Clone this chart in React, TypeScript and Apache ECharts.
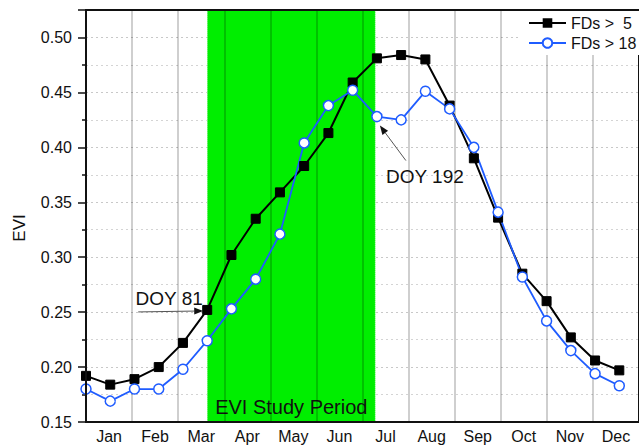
import React, { useEffect, useRef } from "react";
import * as echarts from "echarts";

const months = ["Jan", "Feb", "Mar", "Apr", "May", "Jun", "Jul", "Aug", "Sep", "Oct", "Nov", "Dec"];
const doy = [1, 17, 33, 49, 65, 81, 97, 113, 129, 145, 161, 177, 193, 209, 225, 241, 257, 273, 289, 305, 321, 337, 353];
const fds5 = [0.192, 0.184, 0.189, 0.2, 0.222, 0.252, 0.302, 0.335, 0.359, 0.383, 0.413, 0.459, 0.481, 0.484, 0.48, 0.438, 0.39, 0.336, 0.285, 0.26, 0.227, 0.206, 0.197];
const fds18 = [0.18, 0.169, 0.18, 0.18, 0.198, 0.224, 0.253, 0.28, 0.321, 0.404, 0.438, 0.452, 0.428, 0.425, 0.451, 0.435, 0.4, 0.341, 0.282, 0.242, 0.215, 0.194, 0.183];
const studyPeriod = [81, 192];
const seriesNames = ["FDs >  5", "FDs > 18"];
const yMin = 0.15;
const yMax = 0.525;
const yStep = 0.05;

const FONT = "'Liberation Sans', Arial, Helvetica, sans-serif";

function arrow(x1: number, y1: number, x2: number, y2: number, color: string) {
  const dx = x2 - x1;
  const dy = y2 - y1;
  const len = Math.sqrt(dx * dx + dy * dy);
  const ux = dx / len;
  const uy = dy / len;
  const hl = 9;
  const hw = 3.5;
  const bx = x2 - ux * hl;
  const by = y2 - uy * hl;
  return [
    {
      type: "line",
      z: 10,
      shape: { x1, y1, x2: bx, y2: by },
      style: { stroke: color, lineWidth: 1 },
    },
    {
      type: "polygon",
      z: 10,
      shape: {
        points: [
          [x2, y2],
          [bx - uy * hw, by + ux * hw],
          [bx + uy * hw, by - ux * hw],
        ],
      },
      style: { fill: "#111" },
    },
  ];
}

export default function App() {
  const ref = useRef<HTMLDivElement>(null);
  useEffect(() => {
    if (!ref.current) return;
    const chart = echarts.init(ref.current, null, { renderer: "svg" });
    const d5 = doy.map((d, i) => [d, fds5[i]]);
    const d18 = doy.map((d, i) => [d, fds18[i]]);
    chart.setOption({
      animation: false,
      textStyle: { fontFamily: FONT },
      grid: {
        left: 86,
        top: 10,
        width: 557,
        height: 412,
        show: true,
        borderColor: "#111",
        borderWidth: 2,
        z: 4,
      },
      legend: {
        orient: "vertical",
        left: 520,
        top: 11,
        padding: [3, 8, 3, 8],
        backgroundColor: "#fff",
        itemWidth: 37,
        itemHeight: 12,
        itemGap: 2,
        z: 6,
        textStyle: { fontSize: 16, color: "#111", fontFamily: FONT, lineHeight: 18 },
        data: seriesNames,
      },
      xAxis: [
        {
          type: "category",
          data: months,
          boundaryGap: true,
          z: 2,
          axisLine: { show: true, lineStyle: { color: "#111", width: 2 } },
          axisTick: { show: false },
          axisLabel: { fontSize: 16, color: "#111", margin: 6, fontFamily: FONT },
          splitLine: { show: true, lineStyle: { color: "rgba(0,0,0,0.25)", width: 1.5 } },
        },
        {
          type: "value",
          min: 1,
          max: 366,
          show: false,
          splitLine: { show: false },
        },
      ],
      yAxis: {
        type: "value",
        min: yMin,
        max: yMax,
        interval: yStep,
        z: 0,
        axisLine: { show: true, lineStyle: { color: "#111", width: 2 } },
        axisTick: { show: true, length: 8, inside: false, lineStyle: { color: "#111", width: 1.5 } },
        minorTick: { show: true, splitNumber: 2, length: 4, lineStyle: { color: "#111", width: 1.5 } },
        axisLabel: {
          fontSize: 16,
          color: "#111",
          margin: 14,
          fontFamily: FONT,
          formatter: (v: number) =>
            Math.abs(v / yStep - Math.round(v / yStep)) < 1e-6 && v < yMax - 1e-6 ? v.toFixed(2) : "",
        },
        splitLine: { show: true, lineStyle: { color: "#c8c8c8", type: [2, 3], width: 1 } },
        minorSplitLine: { show: true, lineStyle: { color: "#d4d4d4", type: [2, 3], width: 1 } },
      },
      series: [
        {
          type: "line",
          name: "study",
          xAxisIndex: 1,
          yAxisIndex: 0,
          data: [],
          silent: true,
          markArea: {
            silent: true,
            z: 1,
            itemStyle: {
              color: "#00ee00",
              borderColor: "rgba(255,255,255,0.7)",
              borderWidth: 1,
              borderType: "dotted",
            },
            label: {
              show: true,
              position: "insideBottom",
              distance: 6,
              fontSize: 20,
              color: "#111",
              fontFamily: FONT,
            },
            data: [[{ xAxis: studyPeriod[0], name: "EVI Study Period" }, { xAxis: studyPeriod[1] }]],
          },
        },
        {
          type: "line",
          name: seriesNames[0],
          xAxisIndex: 1,
          yAxisIndex: 0,
          data: d5,
          z: 3,
          symbol: "rect",
          symbolSize: 9,
          showAllSymbol: true,
          lineStyle: { color: "#000", width: 2 },
          itemStyle: { color: "#000", borderColor: "#000" },
        },
        {
          type: "line",
          name: seriesNames[1],
          xAxisIndex: 1,
          yAxisIndex: 0,
          data: d18,
          z: 3,
          symbol: "circle",
          symbolSize: 10,
          showAllSymbol: true,
          lineStyle: { color: "#1f5cff", width: 1.8 },
          itemStyle: { color: "#ffffff", borderColor: "#1f5cff", borderWidth: 1.5 },
        },
      ],
    });

    const p81 = chart.convertToPixel({ seriesIndex: 1 }, [doy[5], fds5[5]]) as number[];
    const p192 = chart.convertToPixel({ seriesIndex: 2 }, [doy[12], fds18[12]]) as number[];
    const gray = "#555";
    chart.setOption({
      graphic: [
        {
          type: "text",
          z: 10,
          x: 19,
          y: 228,
          rotation: Math.PI / 2,
          style: {
            text: "EVI",
            fontSize: 17,
            fontFamily: FONT,
            fill: "#111",
            align: "center",
            verticalAlign: "middle",
          },
        },
        {
          type: "text",
          z: 10,
          x: p81[0] - 38,
          y: p81[1] - 11,
          style: {
            text: "DOY 81",
            fontSize: 19,
            fontFamily: FONT,
            fill: "#111",
            align: "center",
            verticalAlign: "middle",
          },
        },
        ...arrow(p81[0] - 69, p81[1] + 2, p81[0] - 4, p81[1] + 1, gray),
        {
          type: "text",
          z: 10,
          x: p192[0] + 48,
          y: p192[1] + 60,
          style: {
            text: "DOY 192",
            fontSize: 19,
            fontFamily: FONT,
            fill: "#111",
            align: "center",
            verticalAlign: "middle",
          },
        },
        ...arrow(p192[0] + 29, p192[1] + 44, p192[0] + 3, p192[1] + 9, gray),
      ],
    });
    return () => chart.dispose();
  }, []);
  return (
    <div
      ref={ref}
      style={{ position: "fixed", left: 0, top: 0, width: 639, height: 447, background: "#fff" }}
    />
  );
}
